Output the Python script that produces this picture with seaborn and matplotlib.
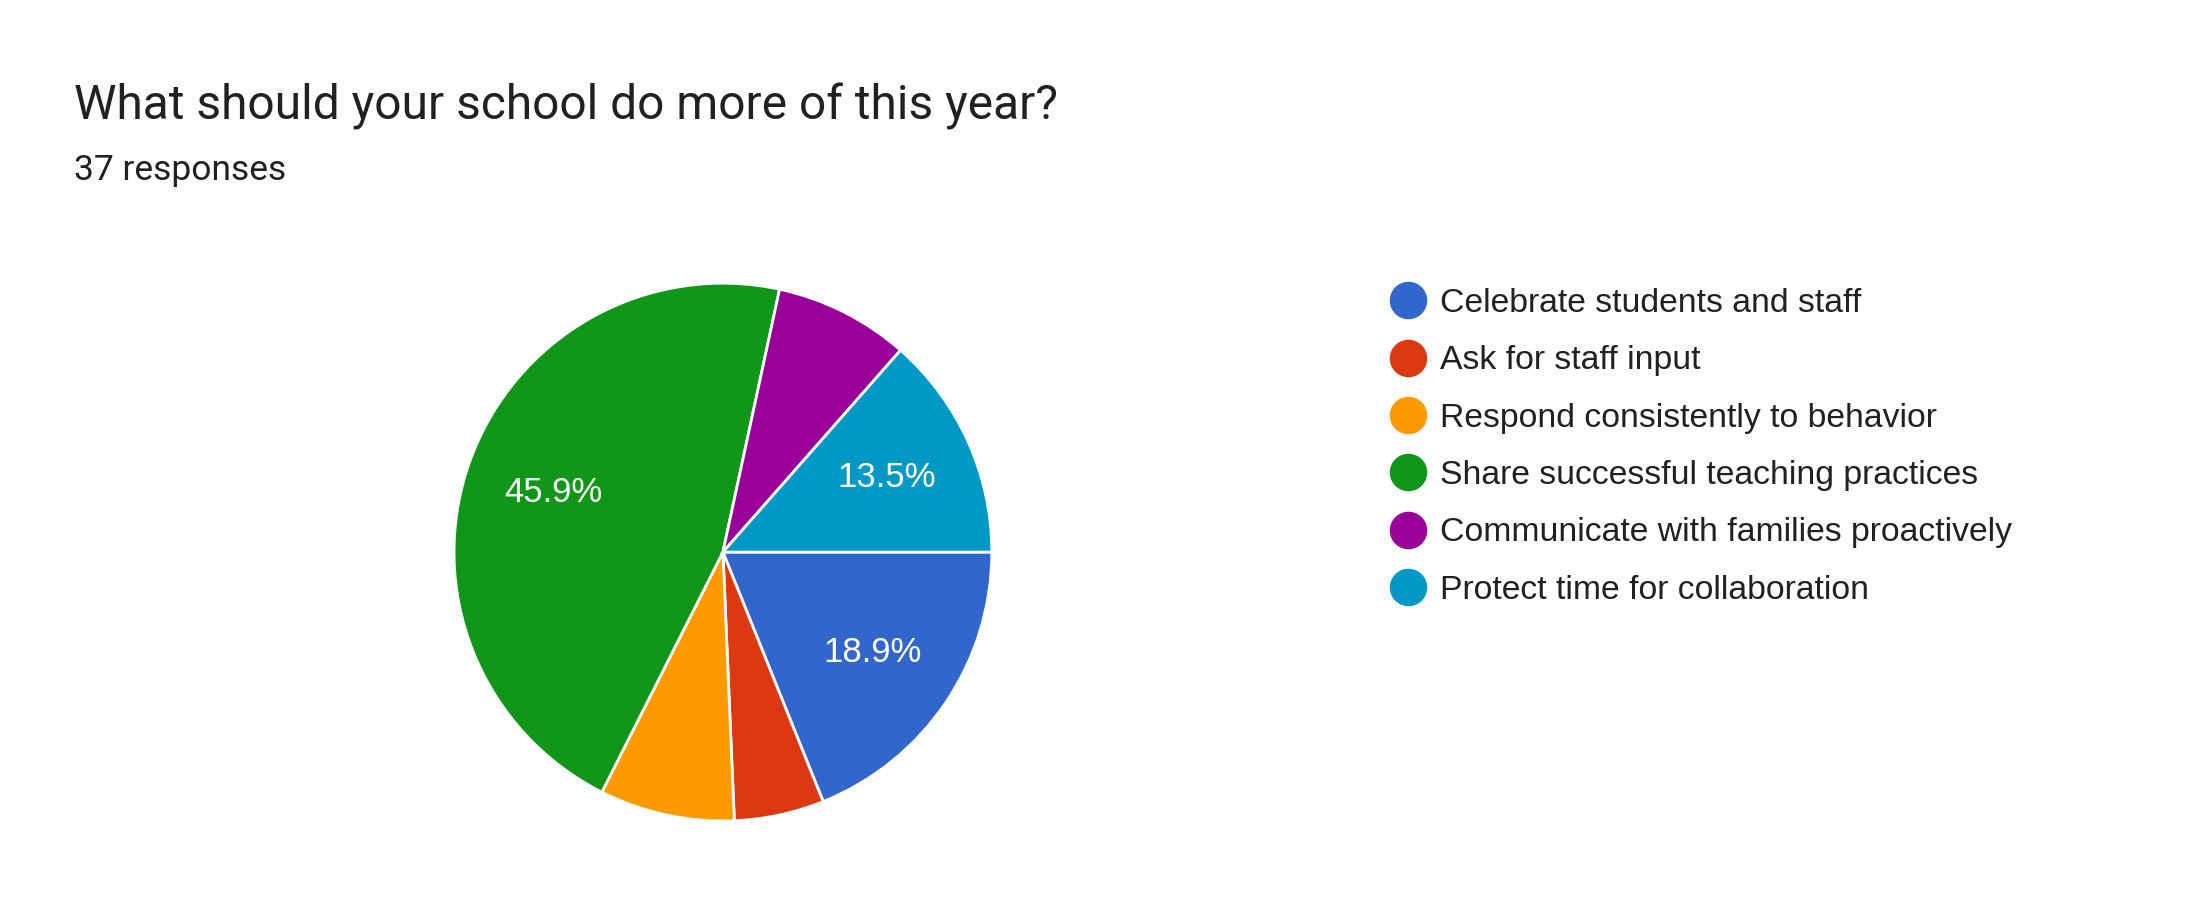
import matplotlib
matplotlib.use("Agg")
import matplotlib.pyplot as plt
import seaborn as sns
from matplotlib.lines import Line2D

# Survey data
title = "What should your school do more of this year?"
subtitle = "37 responses"
categories = [
    "Celebrate students and staff",
    "Ask for staff input",
    "Respond consistently to behavior",
    "Share successful teaching practices",
    "Communicate with families proactively",
    "Protect time for collaboration",
]
counts = [7, 2, 3, 17, 3, 5]
colors = ["#3366cc", "#dc3912", "#ff9900", "#109618", "#990099", "#0099c6"]

sns.set_theme(style="white")
plt.rcParams["font.family"] = ["Roboto", "DejaVu Sans"]

palette = sns.color_palette(colors)
helv = ["Liberation Sans", "DejaVu Sans"]

fig = plt.figure(figsize=(21.96, 9.24), dpi=100)
fig.patch.set_facecolor("white")

fig.text(0.0337, 0.885, title, fontsize=34.5, color="#202124", va="center")
fig.text(0.0337, 0.815, subtitle, fontsize=25.5, color="#202124", va="center")

ax = fig.add_axes([0.2067, 0.1115, 0.245, 0.582])


def fmt(p):
    # only the bigger slices get a label
    return f"{p:.1f}%" if p >= 10 else ""


wedges, texts, autotexts = ax.pie(
    counts,
    colors=palette,
    startangle=0,
    counterclock=False,
    autopct=fmt,
    pctdistance=0.67,
    radius=1,
    wedgeprops=dict(edgecolor="white", linewidth=2),
    textprops=dict(color="white", fontsize=25, family=helv),
)
ax.set_xlim(-1, 1)
ax.set_ylim(-1, 1)

handles = [
    Line2D([0], [0], marker="o", linestyle="", markersize=26,
           markerfacecolor=c, markeredgecolor=c)
    for c in palette
]
fig.legend(
    handles,
    categories,
    loc="upper left",
    bbox_to_anchor=(0.6198, 0.721),
    frameon=False,
    prop=dict(family=helv, size=24.3),
    labelspacing=0.78,
    handletextpad=0.45,
    handlelength=1.0,
    labelcolor="#202124",
)

plt.savefig("out.png", dpi=100, facecolor="white")
